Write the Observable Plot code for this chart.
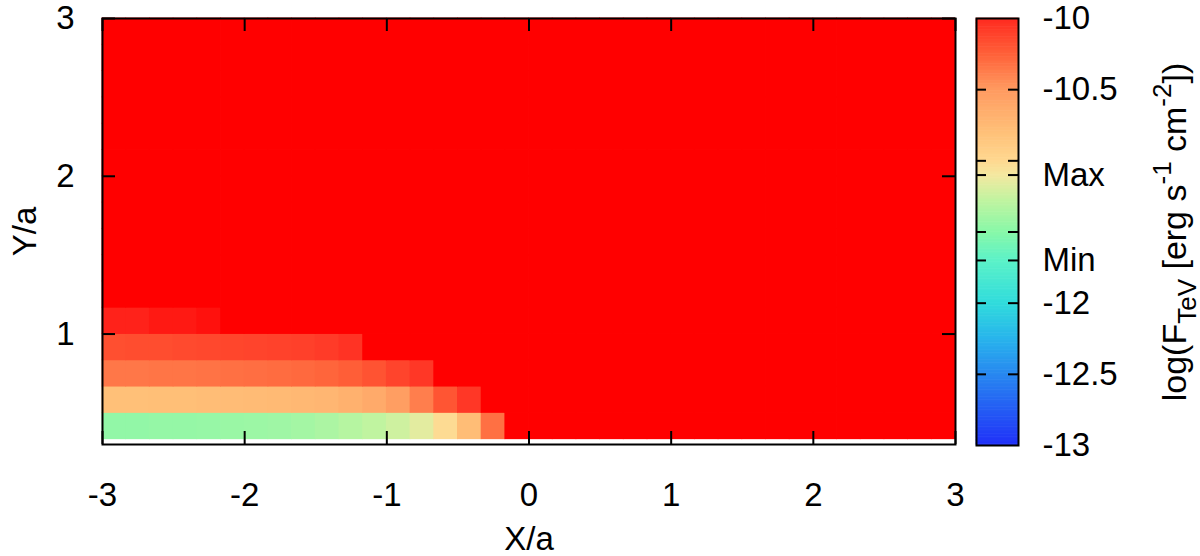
<!DOCTYPE html>
<html><head><meta charset="utf-8">
<script src="https://cdn.jsdelivr.net/npm/d3@7"></script>
<script src="https://cdn.jsdelivr.net/npm/@observablehq/plot@0.6"></script>
<style>
body{margin:0;background:#fff;}
#wrap{position:relative;width:1200px;height:556px;font-family:"Liberation Sans",Arial,sans-serif;}
#main{position:absolute;left:0;top:0;}
#cbar{position:absolute;left:960px;top:0;}
</style></head><body><div id="wrap"><div id="main"></div><div id="cbar"></div></div>
<script>
// Axis ticks
const xTicks = [-3, -2, -1, 0, 1, 2, 3];
const yTicks = [1, 2, 3];
// Colorbar ticks and labels
const cbTickVals = [-10.5, -11, -11.1, -11.5, -11.7, -12, -12.5];
const cbLabelVals = [-10, -10.5, -11.1, -11.7, -12, -12.5, -13];
const cbLabelText = ["-10", "-10.5", "Max", "Min", "-12", "-12.5", "-13"];
// Palette (value -> colour)
const palVals = [-13, -12.5, -12.25, -12, -11.7, -11.5, -11.28, -11.1, -11, -10.8, -10.5, -10.25, -10, -9.95];
const palCols = ["#2030f8", "#2888f0", "#28b4ec", "#30dcdc", "#5cf2c8", "#88f8a8", "#c0f4a0", "#f4e8a0", "#ffd890", "#ffc078", "#ff9a60", "#ff6038", "#ff2a20", "#ff0000"];
// Grid: 36 columns from X/a=-3, 16 rows from Y/a=1/3, cell 1/6
const xStart = -3, yStart = 1 / 3, cellSize = 1 / 6;
const S = -9.95; // saturated (>= top of colour bar)
// rows from bottom (Y/a = 1/3) to top
const rows = [
  [-11.46,-11.46,-11.45,-11.45,-11.44,-11.43,-11.42,-11.41,-11.39,-11.36,-11.32,-11.28,-11.23,-11.16,-11.02,-10.78,-10.32,S,S,S,S,S,S,S,S,S,S,S,S,S,S,S,S,S,S,S],
  [-10.80,-10.80,-10.79,-10.79,-10.78,-10.77,-10.76,-10.75,-10.74,-10.72,-10.68,-10.63,-10.53,-10.38,-10.20,-10.06,S,S,S,S,S,S,S,S,S,S,S,S,S,S,S,S,S,S,S,S],
  [-10.35,-10.35,-10.34,-10.34,-10.33,-10.32,-10.31,-10.30,-10.29,-10.27,-10.24,-10.19,-10.12,-10.06,S,S,S,S,S,S,S,S,S,S,S,S,S,S,S,S,S,S,S,S,S,S],
  [-10.17,-10.16,-10.16,-10.15,-10.14,-10.13,-10.12,-10.11,-10.10,-10.08,-10.04,S,S,S,S,S,S,S,S,S,S,S,S,S,S,S,S,S,S,S,S,S,S,S,S,S],
  [-9.99,-9.99,-9.98,-9.98,-9.97,S,S,S,S,S,S,S,S,S,S,S,S,S,S,S,S,S,S,S,S,S,S,S,S,S,S,S,S,S,S,S],
  [S,S,S,S,S,S,S,S,S,S,S,S,S,S,S,S,S,S,S,S,S,S,S,S,S,S,S,S,S,S,S,S,S,S,S,S],
  [S,S,S,S,S,S,S,S,S,S,S,S,S,S,S,S,S,S,S,S,S,S,S,S,S,S,S,S,S,S,S,S,S,S,S,S],
  [S,S,S,S,S,S,S,S,S,S,S,S,S,S,S,S,S,S,S,S,S,S,S,S,S,S,S,S,S,S,S,S,S,S,S,S],
  [S,S,S,S,S,S,S,S,S,S,S,S,S,S,S,S,S,S,S,S,S,S,S,S,S,S,S,S,S,S,S,S,S,S,S,S],
  [S,S,S,S,S,S,S,S,S,S,S,S,S,S,S,S,S,S,S,S,S,S,S,S,S,S,S,S,S,S,S,S,S,S,S,S],
  [S,S,S,S,S,S,S,S,S,S,S,S,S,S,S,S,S,S,S,S,S,S,S,S,S,S,S,S,S,S,S,S,S,S,S,S],
  [S,S,S,S,S,S,S,S,S,S,S,S,S,S,S,S,S,S,S,S,S,S,S,S,S,S,S,S,S,S,S,S,S,S,S,S],
  [S,S,S,S,S,S,S,S,S,S,S,S,S,S,S,S,S,S,S,S,S,S,S,S,S,S,S,S,S,S,S,S,S,S,S,S],
  [S,S,S,S,S,S,S,S,S,S,S,S,S,S,S,S,S,S,S,S,S,S,S,S,S,S,S,S,S,S,S,S,S,S,S,S],
  [S,S,S,S,S,S,S,S,S,S,S,S,S,S,S,S,S,S,S,S,S,S,S,S,S,S,S,S,S,S,S,S,S,S,S,S],
  [S,S,S,S,S,S,S,S,S,S,S,S,S,S,S,S,S,S,S,S,S,S,S,S,S,S,S,S,S,S,S,S,S,S,S,S]
];

const cells = [];
rows.forEach((row, j) => row.forEach((v, i) => cells.push({
  x1: xStart + i * cellSize, x2: xStart + (i + 1) * cellSize,
  y1: yStart + j * cellSize, y2: yStart + (j + 1) * cellSize, v
})));

const font = "'Liberation Sans', Arial, Helvetica, sans-serif";
const FS = 33;
const colorOpts = {type: "linear", domain: palVals, range: palCols, interpolate: "rgb", clamp: true};
const ink = {stroke: "black", strokeWidth: 2};

const main = Plot.plot({
  width: 960, height: 556,
  marginLeft: 102, marginRight: 5, marginTop: 18, marginBottom: 112,
  x: {domain: [-3, 3]},
  y: {domain: [0.3, 3]},
  color: colorOpts,
  style: {fontSize: FS + "px", fontFamily: font, color: "black", background: "white", overflow: "visible"},
  marks: [
    Plot.rect(cells, {x1: "x1", x2: "x2", y1: "y1", y2: "y2", fill: "v", inset: -0.4}),
    Plot.tickX(xTicks, {x: d => d, insetTop: 413, ...ink}),
    Plot.tickX(xTicks, {x: d => d, insetBottom: 413, ...ink}),
    Plot.tickY(yTicks, {y: d => d, insetRight: 840, ...ink}),
    Plot.tickY(yTicks, {y: d => d, insetLeft: 840, ...ink}),
    Plot.frame(ink),
    Plot.axisX({ticks: xTicks, tickSize: 0, tickPadding: 38, tickFormat: d => String(d), label: null, fontSize: FS}),
    Plot.axisY({ticks: yTicks, tickSize: 0, tickPadding: 28, tickFormat: d => String(d), label: null, fontSize: FS}),
    Plot.text(["X/a"], {text: d => d, frameAnchor: "bottom", lineAnchor: "middle", textAnchor: "middle", dy: 95, fontSize: FS}),
    Plot.text(["Y/a"], {text: d => d, frameAnchor: "left", lineAnchor: "middle", textAnchor: "middle", dx: -77, rotate: -90, fontSize: FS})
  ]
});
document.getElementById("main").appendChild(main);

const ramp = d3.range(-13, -10, 0.01);
const cbar = Plot.plot({
  width: 240, height: 556,
  marginLeft: 16, marginRight: 182, marginTop: 18, marginBottom: 111,
  x: {domain: [0, 1], axis: null},
  y: {domain: [-13, -10]},
  color: colorOpts,
  style: {fontSize: FS + "px", fontFamily: font, color: "black", background: "none", overflow: "visible"},
  marks: [
    Plot.rect(ramp, {x1: 0, x2: 1, y1: d => d, y2: d => d + 0.01, fill: d => d + 0.005, inset: -0.3}),
    Plot.tickY(cbTickVals, {y: d => d, insetRight: 32, ...ink}),
    Plot.tickY(cbTickVals, {y: d => d, insetLeft: 32, ...ink}),
    Plot.frame(ink),
    Plot.axisY({anchor: "right", ticks: cbLabelVals, tickSize: 0, tickPadding: 24,
      tickFormat: d => cbLabelText[cbLabelVals.indexOf(d)], label: null, fontSize: FS})
  ]
});
document.getElementById("cbar").appendChild(cbar);

// Colour-bar title with subscript / superscripts
const t = d3.select(cbar).append("text")
  .attr("transform", "translate(226,232) rotate(-90)")
  .attr("text-anchor", "middle")
  .attr("font-size", 34)
  .attr("font-family", font)
  .attr("fill", "black");
t.append("tspan").text("log(F");
t.append("tspan").attr("font-size", 26).attr("dy", 10).text("TeV");
t.append("tspan").attr("dy", -10).text(" [erg s");
t.append("tspan").attr("font-size", 26).attr("dy", -15).text("-1");
t.append("tspan").attr("dy", 15).text(" cm");
t.append("tspan").attr("font-size", 26).attr("dy", -15).text("-2");
t.append("tspan").attr("dy", 15).text("])");
</script></body></html>
